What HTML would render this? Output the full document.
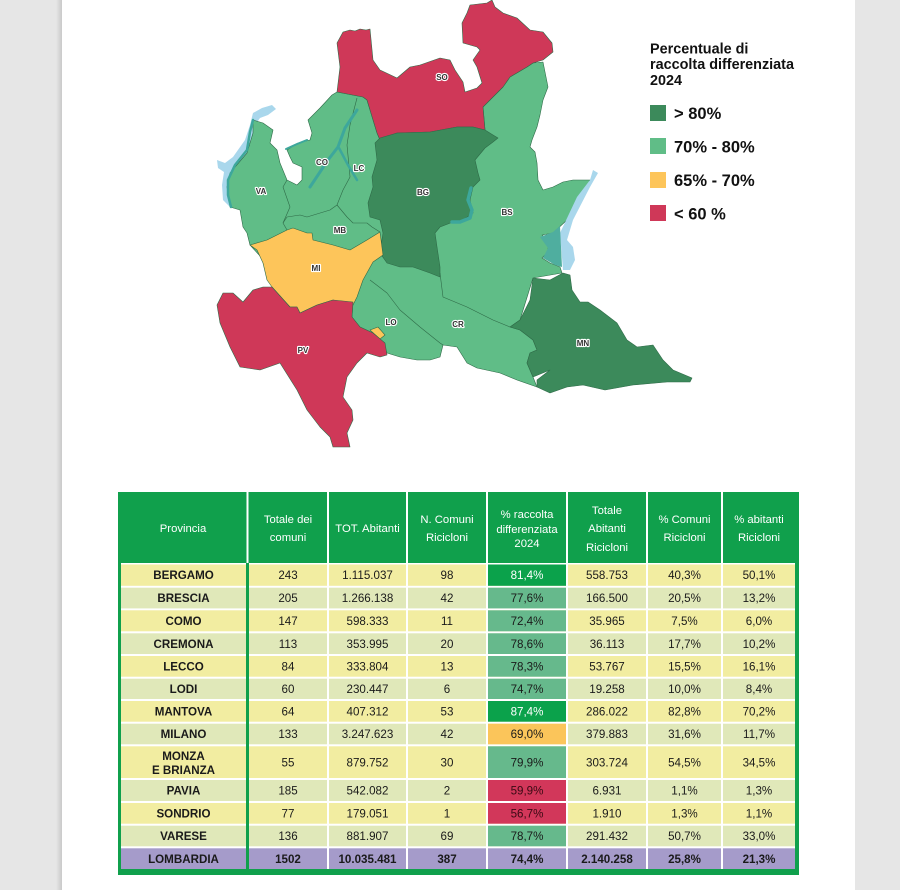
<!DOCTYPE html>
<html><head><meta charset="utf-8"><style>
html,body{margin:0;padding:0;background:#e6e6e6;}
svg{display:block;}
.t{font-family:"Liberation Sans",Arial,sans-serif;}
</style></head><body>
<svg width="900" height="890" viewBox="0 0 900 890" xmlns="http://www.w3.org/2000/svg">
<defs>
<linearGradient id="sh" x1="0" x2="1" y1="0" y2="0"><stop offset="0" stop-color="#e6e6e6"/><stop offset="1" stop-color="#c9c9c9"/></linearGradient>
</defs>
<rect x="0" y="0" width="900" height="890" fill="#e6e6e6"/>
<rect x="56" y="0" width="6" height="890" fill="url(#sh)"/>
<rect x="62" y="0" width="793" height="890" fill="#ffffff"/>

<!-- MAP -->
<g stroke="#2f6b48" stroke-width="0.6" stroke-linejoin="round">
<!-- Lake Maggiore -->
<polygon fill="#a9d7ec" stroke="none" points="217,160 225,163 233,157 245,140 250,125 253,113 262,108 272,105 276,109 268,115 260,118 255,125 253,135 247,153 232,172 228,188 230,207 223,200 222,185 224,172 218,168"/>
<!-- base light green -->
<polygon fill="#60bd87" points="253,120 263,123 273,130 270,143 277,150 280,163 287,180 297,185 302,180 302,167 293,163 290,157 287,150 298,143 310,140 312,133 308,120 320,108 332,95 337,92 363,97 367,100 377,133 380,140 485,130 483,107 490,100 503,87 510,77 527,67 533,63 543,62 548,87 543,100 540,115 537,127 532,140 530,147 535,152 537,163 538,180 543,190 553,187 563,182 573,180 590,180 580,203 567,220 553,233 542,235 550,240 547,253 542,258 550,263 560,267 562,273 533,278 520,320 510,327 520,330 533,340 537,350 530,353 527,363 533,377 537,387 517,380 500,373 477,368 467,363 457,347 443,345 440,357 430,360 417,360 400,357 387,353 383,343 373,333 360,327 352,317 353,302 300,300 250,245 247,233 243,227 240,210 230,207 227,187 230,173 247,153 253,133"/>
<!-- Lake Garda -->
<polygon fill="#a9d7ec" stroke="none" points="593,170 598,173 590,187 573,220 567,240 573,247 575,260 570,270 563,270 560,233 577,197 590,180"/>
<polygon fill="#4fae9f" stroke="none" points="540,237 553,232 560,226 562,267 555,265 543,258 548,248"/>
<!-- SO -->
<polygon fill="#cf3858" points="337,92 340,67 337,43 343,32 350,30 355,31 360,29 366,30 370,29 373,60 380,70 397,78 410,67 420,65 440,58 450,60 455,70 463,82 465,92 477,88 482,83 477,67 473,60 480,50 477,47 463,43 462,23 467,13 470,5 487,3 492,0 495,7 503,13 517,18 530,30 543,32 552,43 553,52 543,60 533,63 527,67 510,77 503,87 490,100 483,107 485,130 473,127 457,127 430,132 397,133 380,140 377,133 367,100 363,97"/>
<!-- BG -->
<polygon fill="#3c8a5b" points="380,138 397,133 430,132 457,127 473,127 485,130 493,135 498,138 493,142 485,148 475,160 478,173 480,180 473,187 470,200 473,213 463,220 453,222 440,227 435,233 437,247 440,267 440,277 430,273 413,267 400,267 387,263 380,253 383,233 380,220 370,217 368,203 373,187 372,177 377,160 375,143"/>
<!-- MI -->
<polygon fill="#fdc55a" points="250,245 267,240 287,230 293,228 307,233 312,233 313,240 333,245 350,250 367,240 380,232 383,255 373,262 363,280 357,297 353,305 333,300 317,305 300,313 297,307 290,307 272,287 267,280 263,263 257,250"/>
<polygon fill="#fdc55a" points="370,330 378,327 385,335 380,339"/>
<!-- PV -->
<polygon fill="#cf3858" points="217,305 223,293 233,293 243,302 253,290 263,287 272,287 290,307 297,307 300,313 317,305 333,300 353,302 352,317 360,327 373,333 385,343 387,355 380,357 367,353 357,363 347,377 343,397 352,410 353,420 347,433 350,447 333,447 330,437 320,427 307,410 297,390 280,363 260,370 240,367 230,347 220,323"/>
<!-- MN -->
<polygon fill="#3c8a5b" points="533,278 550,280 563,273 570,275 572,290 580,302 588,302 600,310 617,323 627,340 637,347 653,345 663,360 673,370 692,378 690,382 667,382 633,385 605,390 583,385 567,387 550,393 537,387 537,380 550,370 533,377 527,363 530,353 537,350 533,340 520,330 510,327 520,320 530,300"/>
</g>
<!-- internal borders -->
<g fill="none" stroke="#2f6b48" stroke-width="0.6" stroke-linejoin="round">
<polyline points="287,180 283,187 290,207 283,223 287,230"/>
<polyline points="283,223 287,217 300,215 307,217 330,210 337,205 347,217 353,223 367,223 372,227 380,232"/>
<polyline points="357,98 350,125 347,145 350,177 343,190 337,205"/>
<polyline points="370,280 387,293 400,310 420,327 440,343 443,345"/>
<polyline points="440,273 443,297 467,307 493,320 510,327"/>
</g>
<!-- lakes lines -->
<g fill="none" stroke="#3da79c" stroke-linecap="round" stroke-linejoin="round">
<polyline stroke-width="2.5" points="253,120 250,132 247,150 235,165 228,180 228,195 231,207"/>
<polyline stroke-width="3" points="357,110 345,128 338,147 328,160 318,175 310,187"/>
<polyline stroke-width="2.5" points="339,148 348,165 357,180"/>
<polyline stroke-width="2" points="286,149 297,144 307,140"/>
<polyline stroke-width="3.5" points="471,188 468,200 472,210 470,218 460,222 452,222"/>
</g>
<!-- map labels -->
<g class="t" font-size="8" font-weight="bold" fill="#333" text-anchor="middle" stroke="#ffffff" stroke-width="2.2" paint-order="stroke" stroke-linejoin="round">
<text x="442" y="80">SO</text>
<text x="322" y="165">CO</text>
<text x="359" y="171">LC</text>
<text x="261" y="194">VA</text>
<text x="423" y="195">BG</text>
<text x="507" y="215">BS</text>
<text x="340" y="233">MB</text>
<text x="316" y="271">MI</text>
<text x="391" y="325">LO</text>
<text x="458" y="327">CR</text>
<text x="303" y="353">PV</text>
<text x="583" y="346">MN</text>
</g>

<!-- LEGEND -->
<g class="t" font-weight="bold" fill="#111">
<text x="650" y="53.5" font-size="14.4">Percentuale di</text>
<text x="650" y="69" font-size="14.4">raccolta differenziata</text>
<text x="650" y="84.8" font-size="14.4">2024</text>
<rect x="650" y="105" width="16" height="16" fill="#3c8a5b"/>
<rect x="650" y="138" width="16" height="16" fill="#60bd87"/>
<rect x="650" y="172" width="16" height="16" fill="#fdc55a"/>
<rect x="650" y="205" width="16" height="16" fill="#cf3858"/>
<text x="674" y="119" font-size="16.5">&gt; 80%</text>
<text x="674" y="152.5" font-size="16.5">70% - 80%</text>
<text x="674" y="186" font-size="16.5">65% - 70%</text>
<text x="674" y="219.5" font-size="16.5">&lt; 60 %</text>
</g>

<!-- TABLE -->
<rect x="118" y="492" width="681" height="383" fill="#10a04c"/>
<rect x="121" y="563" width="674" height="306" fill="#ffffff"/>
<g fill="#ffffff">
<rect x="246.5" y="492" width="2" height="71"/>
<rect x="327" y="492" width="2" height="71"/>
<rect x="406" y="492" width="2" height="71"/>
<rect x="486" y="492" width="2" height="71"/>
<rect x="566" y="492" width="2" height="71"/>
<rect x="646" y="492" width="2" height="71"/>
<rect x="721" y="492" width="2" height="71"/>
</g>
<g class="t" font-size="11.3" fill="#ffffff" text-anchor="middle">
<text x="183" y="532">Provincia</text>
<text x="288" y="523">Totale dei</text><text x="288" y="541">comuni</text>
<text x="367.5" y="532">TOT. Abitanti</text>
<text x="447" y="523">N. Comuni</text><text x="447" y="541">Ricicloni</text>
<text x="527" y="518">% raccolta</text><text x="527" y="533">differenziata</text><text x="527" y="547">2024</text>
<text x="607" y="514">Totale</text><text x="607" y="532">Abitanti</text><text x="607" y="551">Ricicloni</text>
<text x="684.5" y="523">% Comuni</text><text x="684.5" y="541">Ricicloni</text>
<text x="759" y="523">% abitanti</text><text x="759" y="541">Ricicloni</text>
</g>

<!-- row backgrounds -->
<g>
<rect x="121" y="564.5" width="674" height="21.3" fill="#f2eda1"/>
<rect x="121" y="587.7" width="674" height="20.7" fill="#e0e8b9"/>
<rect x="121" y="610.3" width="674" height="21" fill="#f2eda1"/>
<rect x="121" y="633.3" width="674" height="20.7" fill="#e0e8b9"/>
<rect x="121" y="656" width="674" height="20.7" fill="#f2eda1"/>
<rect x="121" y="678.7" width="674" height="20.3" fill="#e0e8b9"/>
<rect x="121" y="701" width="674" height="20.7" fill="#f2eda1"/>
<rect x="121" y="723.7" width="674" height="20.6" fill="#e0e8b9"/>
<rect x="121" y="746.3" width="674" height="31.7" fill="#f2eda1"/>
<rect x="121" y="780" width="674" height="21" fill="#e0e8b9"/>
<rect x="121" y="803" width="674" height="20.7" fill="#f2eda1"/>
<rect x="121" y="825.7" width="674" height="20.6" fill="#e0e8b9"/>
<rect x="121" y="848.3" width="674" height="20.7" fill="#a59bca"/>
</g>
<!-- % cells -->
<g>
<rect x="488" y="564.5" width="78" height="21.3" fill="#0ba24b"/>
<rect x="488" y="587.7" width="78" height="20.7" fill="#66b98c"/>
<rect x="488" y="610.3" width="78" height="21" fill="#66b98c"/>
<rect x="488" y="633.3" width="78" height="20.7" fill="#66b98c"/>
<rect x="488" y="656" width="78" height="20.7" fill="#66b98c"/>
<rect x="488" y="678.7" width="78" height="20.3" fill="#66b98c"/>
<rect x="488" y="701" width="78" height="20.7" fill="#0ba24b"/>
<rect x="488" y="723.7" width="78" height="20.6" fill="#fbc55a"/>
<rect x="488" y="746.3" width="78" height="31.7" fill="#66b98c"/>
<rect x="488" y="780" width="78" height="21" fill="#d2375a"/>
<rect x="488" y="803" width="78" height="20.7" fill="#d2375a"/>
<rect x="488" y="825.7" width="78" height="20.6" fill="#66b98c"/>
</g>
<!-- column separators -->
<g fill="#ffffff">
<rect x="327" y="563" width="2" height="306"/>
<rect x="406" y="563" width="2" height="306"/>
<rect x="486" y="563" width="2" height="306"/>
<rect x="566" y="563" width="2" height="306"/>
<rect x="646" y="563" width="2" height="306"/>
<rect x="721" y="563" width="2" height="306"/>
</g>
<rect x="246" y="563" width="3" height="306" fill="#10a04c"/>

<!-- cell text -->
<g class="t" font-size="11.6" fill="#1a1a1a" text-anchor="middle">
<g font-weight="bold">
<text x="183.5" y="579.2">BERGAMO</text>
<text x="183.5" y="602.2">BRESCIA</text>
<text x="183.5" y="625.2">COMO</text>
<text x="183.5" y="647.9">CREMONA</text>
<text x="183.5" y="670.5">LECCO</text>
<text x="183.5" y="693.1">LODI</text>
<text x="183.5" y="715.5">MANTOVA</text>
<text x="183.5" y="738.2">MILANO</text>
<text x="183.5" y="760">MONZA</text>
<text x="183.5" y="774">E BRIANZA</text>
<text x="183.5" y="794.7">PAVIA</text>
<text x="183.5" y="817.5">SONDRIO</text>
<text x="183.5" y="840.2">VARESE</text>
<text x="183.5" y="862.8">LOMBARDIA</text>
</g>
<text x="288" y="579.2">243</text><text x="367.5" y="579.2">1.115.037</text><text x="447" y="579.2">98</text><text x="527" y="579.2" fill="#ffffff">81,4%</text><text x="607" y="579.2">558.753</text><text x="684.5" y="579.2">40,3%</text><text x="759" y="579.2">50,1%</text>
<text x="288" y="602.2">205</text><text x="367.5" y="602.2">1.266.138</text><text x="447" y="602.2">42</text><text x="527" y="602.2">77,6%</text><text x="607" y="602.2">166.500</text><text x="684.5" y="602.2">20,5%</text><text x="759" y="602.2">13,2%</text>
<text x="288" y="625.2">147</text><text x="367.5" y="625.2">598.333</text><text x="447" y="625.2">11</text><text x="527" y="625.2">72,4%</text><text x="607" y="625.2">35.965</text><text x="684.5" y="625.2">7,5%</text><text x="759" y="625.2">6,0%</text>
<text x="288" y="647.9">113</text><text x="367.5" y="647.9">353.995</text><text x="447" y="647.9">20</text><text x="527" y="647.9">78,6%</text><text x="607" y="647.9">36.113</text><text x="684.5" y="647.9">17,7%</text><text x="759" y="647.9">10,2%</text>
<text x="288" y="670.5">84</text><text x="367.5" y="670.5">333.804</text><text x="447" y="670.5">13</text><text x="527" y="670.5">78,3%</text><text x="607" y="670.5">53.767</text><text x="684.5" y="670.5">15,5%</text><text x="759" y="670.5">16,1%</text>
<text x="288" y="693.1">60</text><text x="367.5" y="693.1">230.447</text><text x="447" y="693.1">6</text><text x="527" y="693.1">74,7%</text><text x="607" y="693.1">19.258</text><text x="684.5" y="693.1">10,0%</text><text x="759" y="693.1">8,4%</text>
<text x="288" y="715.5">64</text><text x="367.5" y="715.5">407.312</text><text x="447" y="715.5">53</text><text x="527" y="715.5" fill="#ffffff">87,4%</text><text x="607" y="715.5">286.022</text><text x="684.5" y="715.5">82,8%</text><text x="759" y="715.5">70,2%</text>
<text x="288" y="738.2">133</text><text x="367.5" y="738.2">3.247.623</text><text x="447" y="738.2">42</text><text x="527" y="738.2">69,0%</text><text x="607" y="738.2">379.883</text><text x="684.5" y="738.2">31,6%</text><text x="759" y="738.2">11,7%</text>
<text x="288" y="766.3">55</text><text x="367.5" y="766.3">879.752</text><text x="447" y="766.3">30</text><text x="527" y="766.3">79,9%</text><text x="607" y="766.3">303.724</text><text x="684.5" y="766.3">54,5%</text><text x="759" y="766.3">34,5%</text>
<text x="288" y="794.7">185</text><text x="367.5" y="794.7">542.082</text><text x="447" y="794.7">2</text><text x="527" y="794.7" fill="#3a0a14">59,9%</text><text x="607" y="794.7">6.931</text><text x="684.5" y="794.7">1,1%</text><text x="759" y="794.7">1,3%</text>
<text x="288" y="817.5">77</text><text x="367.5" y="817.5">179.051</text><text x="447" y="817.5">1</text><text x="527" y="817.5" fill="#3a0a14">56,7%</text><text x="607" y="817.5">1.910</text><text x="684.5" y="817.5">1,3%</text><text x="759" y="817.5">1,1%</text>
<text x="288" y="840.2">136</text><text x="367.5" y="840.2">881.907</text><text x="447" y="840.2">69</text><text x="527" y="840.2">78,7%</text><text x="607" y="840.2">291.432</text><text x="684.5" y="840.2">50,7%</text><text x="759" y="840.2">33,0%</text>
<g font-weight="bold">
<text x="288" y="862.8">1502</text><text x="367.5" y="862.8">10.035.481</text><text x="447" y="862.8">387</text><text x="527" y="862.8">74,4%</text><text x="607" y="862.8">2.140.258</text><text x="684.5" y="862.8">25,8%</text><text x="759" y="862.8">21,3%</text>
</g>
</g>
</svg>
</body></html>
